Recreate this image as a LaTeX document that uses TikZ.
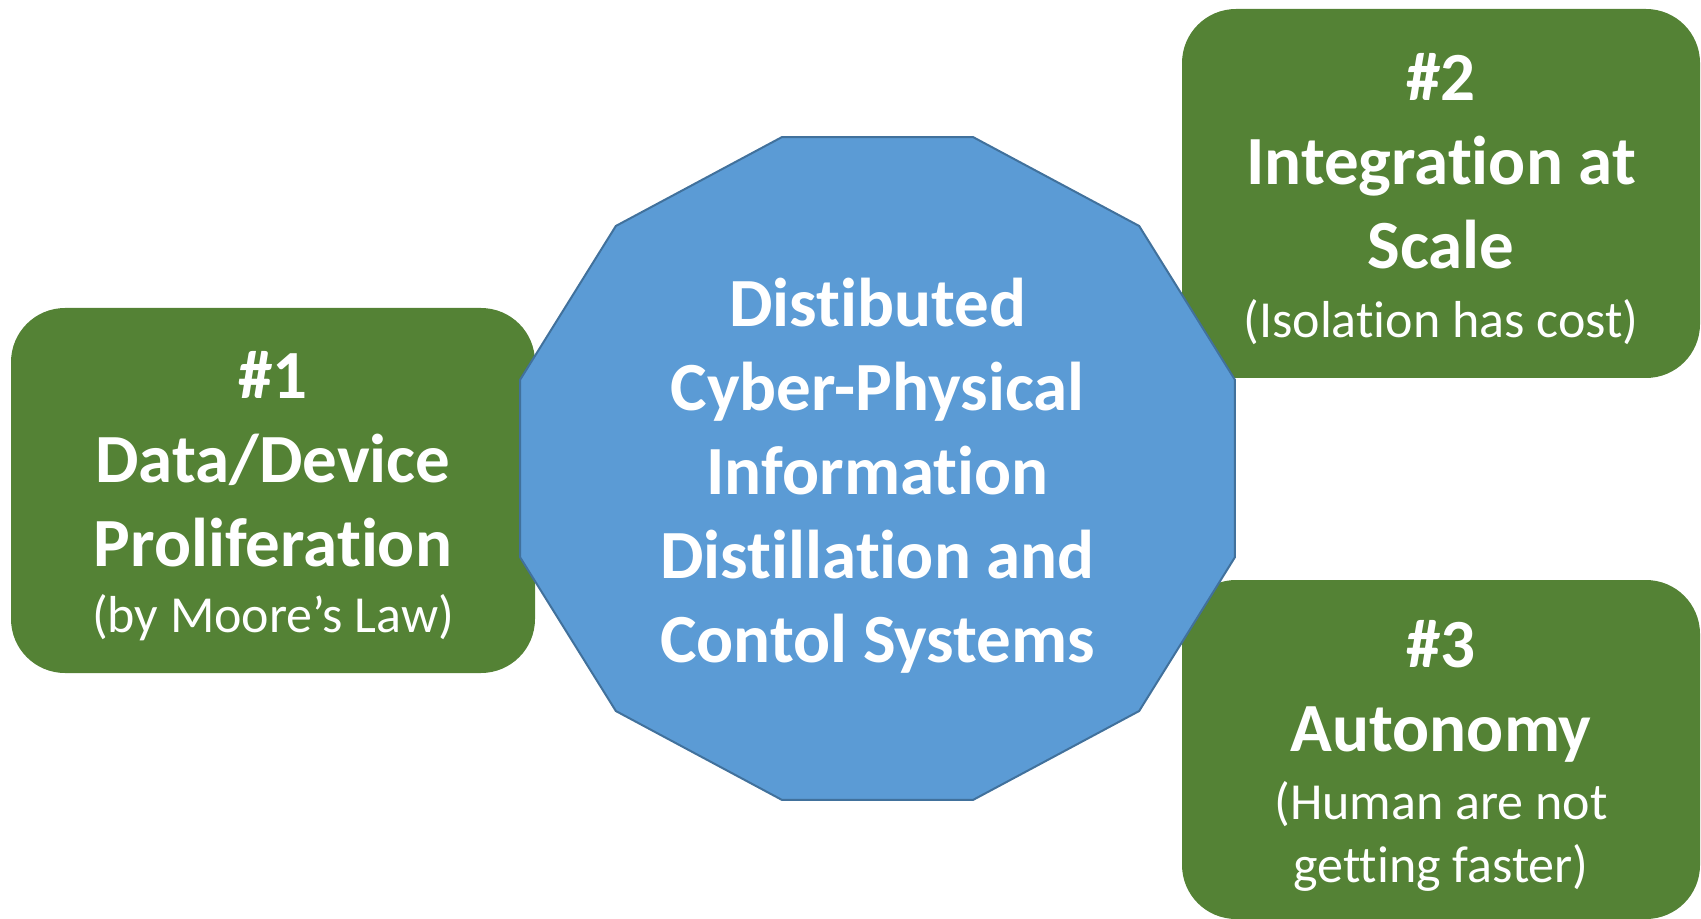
\documentclass[tikz,border=0pt]{standalone}
\usepackage{fontspec}
\setmainfont{Carlito}[Ligatures=NoCommon]
\usetikzlibrary{positioning}
\definecolor{driverGreen}{HTML}{548235}
\definecolor{cpsBlue}{HTML}{5B9BD5}
\definecolor{cpsEdge}{HTML}{41719C}
\newcommand{\notefont}{\mdseries\fontsize{26}{31.5}\selectfont}

\begin{document}
\begin{tikzpicture}[
            x=0.5pt, y=-0.5pt,
            driver/.style={fill=driverGreen, rounded corners=27pt, inner sep=0pt},
            bigtext/.style={text=white, align=center, inner sep=0pt,
                font=\fontsize{34.5}{42}\selectfont\bfseries},
            cps/.style={fill=cpsBlue, draw=cpsEdge, line width=1pt, line join=round}
        ]
        \useasboundingbox (0,0) rectangle (1701,919);
        % the three drivers
        \node[driver, minimum width=262pt, minimum height=182.5pt] (d1) at (273,490.5) {};
        \node[driver, minimum width=259pt, minimum height=184.5pt] (d2) at (1441,193.5) {};
        \node[driver, minimum width=259pt, minimum height=169.5pt] (d3) at (1441,749.5) {};
        \node[bigtext] (d1 text) at ([yshift=-3pt]d1.center)
            {\#1\\ Data/Device\\ Proliferation\\[-9pt] {\notefont (by Moore’s Law)}};
        \node[bigtext] (d2 text) at ([yshift=-3pt]d2.center)
            {\#2\\ Integration at\\ Scale\\[-7.5pt] {\notefont (Isolation has cost)}};
        \node[bigtext] (d3 text) at ([yshift=-3pt]d3.center)
            {\#3\\ Autonomy\\[-8pt] {\notefont (Human are not}\\[-10.5pt] {\notefont getting faster)}};
        % the centre
        \begin{scope}[shift={(877.5,468.5)}]
            \draw[cps] (15:370 and 343) \foreach \a in {45,75,...,345} { -- (\a:370 and 343) } -- cycle;
        \end{scope}
        \node[bigtext] (cpis) at (877.5,476)
            {Distibuted\\ Cyber-Physical\\ Information\\ Distillation and\\ Contol Systems};
        \end{tikzpicture}
\end{document}
